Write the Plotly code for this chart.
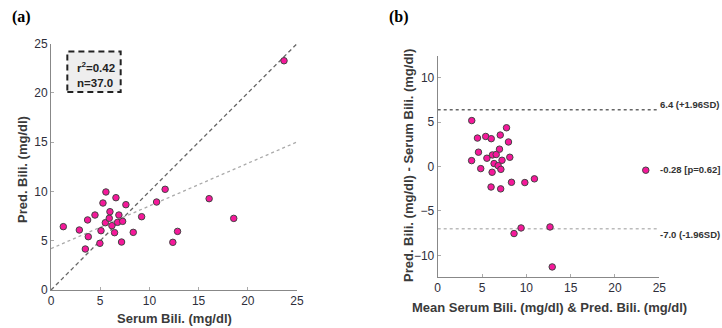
import plotly.graph_objects as go

# Panel (a) data: serum bilirubin vs predicted bilirubin (mg/dl)
serum = [1.25, 2.88, 3.72, 4.47, 3.79, 3.49, 4.97, 5.08, 5.28, 5.58, 5.52, 5.92, 5.99,
         6.19, 6.46, 6.60, 6.90, 6.77, 7.17, 7.28, 7.61, 8.36, 9.21, 10.73, 11.60,
         12.38, 12.86, 16.07, 18.57, 23.68]
pred = [6.43, 6.09, 7.11, 7.61, 5.41, 4.16, 4.74, 6.02, 8.83, 9.95, 6.83, 7.28, 7.95,
        6.53, 5.82, 9.37, 7.61, 6.87, 4.87, 6.97, 8.66, 5.85, 7.44, 8.93, 10.22,
        4.84, 5.95, 9.27, 7.27, 23.27]

# regression line (intercept, slope) and stats
reg_intercept = 4.2
reg_slope = 0.433
r2_text = "r<sup>2</sup>=0.42<br>n=37.0"

# Bland-Altman limits
upper_loa = 6.4
mean_diff = -0.28
lower_loa = -7.0
loa_labels = ["6.4 (+1.96SD)", "-0.28 [p=0.62]", "-7.0 (-1.96SD)"]

ba_mean = [(s + p) / 2 for s, p in zip(serum, pred)]
ba_diff = [p - s for s, p in zip(serum, pred)]

W, H = 722, 328
def px(x): return x / W
def py(y): return 1 - y / H

PINK = "#F5189A"
TICKC = "#2e2e3a"
FONT = "Liberation Sans, Arial, sans-serif"

fig = go.Figure()

# panel a
fig.add_trace(go.Scatter(x=[0, 25], y=[0, 25], mode="lines",
                         line=dict(color="#666666", width=1.3, dash="4px,3px"),
                         xaxis="x", yaxis="y", showlegend=False, hoverinfo="skip"))
fig.add_trace(go.Scatter(x=[0, 25], y=[reg_intercept, reg_intercept + reg_slope * 25], mode="lines",
                         line=dict(color="#aaaaaa", width=1.3, dash="dot"),
                         xaxis="x", yaxis="y", showlegend=False, hoverinfo="skip"))
fig.add_trace(go.Scatter(x=serum, y=pred, mode="markers",
                         marker=dict(color=PINK, size=6.5, line=dict(color="#444444", width=1)),
                         xaxis="x", yaxis="y", showlegend=False))

# panel b
fig.add_trace(go.Scatter(x=[0, 25], y=[upper_loa, upper_loa], mode="lines",
                         line=dict(color="#666666", width=1.5, dash="dot"),
                         xaxis="x2", yaxis="y2", showlegend=False, hoverinfo="skip"))
fig.add_trace(go.Scatter(x=[0, 25], y=[lower_loa, lower_loa], mode="lines",
                         line=dict(color="#bbbbbb", width=1.5, dash="dot"),
                         xaxis="x2", yaxis="y2", showlegend=False, hoverinfo="skip"))
fig.add_trace(go.Scatter(x=ba_mean, y=ba_diff, mode="markers",
                         marker=dict(color=PINK, size=6.5, line=dict(color="#444444", width=1)),
                         xaxis="x2", yaxis="y2", showlegend=False))

axis_common = dict(showgrid=False, zeroline=False, showline=True, linecolor="#888888",
                   linewidth=1, ticks="inside", ticklen=3, tickcolor="#aaaaaa",
                   tickfont=dict(family=FONT, size=12, color=TICKC), automargin=False)

fig.update_layout(
    width=W, height=H,
    margin=dict(l=0, r=0, t=0, b=0),
    paper_bgcolor="white", plot_bgcolor="white",
    xaxis=dict(domain=[px(51), px(297)], range=[0, 25], tickvals=[0, 5, 10, 15, 20, 25],
               anchor="y", **axis_common),
    yaxis=dict(domain=[py(290), py(43.7)], range=[0, 25], tickvals=[0, 5, 10, 15, 20, 25],
               anchor="x", **axis_common),
    xaxis2=dict(domain=[px(437.7), px(659.3)], range=[0, 25], tickvals=[0, 5, 10, 15, 20, 25],
                anchor="y2", **axis_common),
    yaxis2=dict(domain=[py(276.7), py(56)], range=[-12.4, 12.45], tickvals=[-10, -5, 0, 5, 10],
                anchor="x2", **axis_common),
)

fig.add_shape(type="rect", xref="x", yref="y", x0=1.66, x1=7.08, y0=20.1, y1=24.2,
              fillcolor="#eeeeee", line=dict(color="#222222", width=2, dash="6px,4px"), layer="above")

TITLE = dict(family=FONT, size=13, color="#3a3a3a")
ann = []
ann.append(dict(x=px(75), y=py(74), xref="paper", yref="paper", text="<b>" + r2_text + "</b>",
                showarrow=False, xanchor="left", yanchor="middle", align="left",
                font=dict(family=FONT, size=11.5, color="#222222")))
ann.append(dict(x=px(10), y=py(17), xref="paper", yref="paper", text="<b>(a)</b>",
                showarrow=False, xanchor="left", yanchor="middle",
                font=dict(family="Liberation Serif, Times New Roman, serif", size=16, color="black")))
ann.append(dict(x=px(387), y=py(17), xref="paper", yref="paper", text="<b>(b)</b>",
                showarrow=False, xanchor="left", yanchor="middle",
                font=dict(family="Liberation Serif, Times New Roman, serif", size=16, color="black")))
ann.append(dict(x=px(174), y=py(318), xref="paper", yref="paper", text="<b>Serum Bili. (mg/dl)</b>",
                showarrow=False, xanchor="center", yanchor="middle", font=TITLE))
ann.append(dict(x=px(22), y=py(170), xref="paper", yref="paper", text="<b>Pred. Bili. (mg/dl)</b>",
                showarrow=False, xanchor="center", yanchor="middle", textangle=-90, font=TITLE))
ann.append(dict(x=px(549), y=py(307), xref="paper", yref="paper",
                text="<b>Mean Serum Bili. (mg/dl) &amp; Pred. Bili. (mg/dl)</b>",
                showarrow=False, xanchor="center", yanchor="middle", font=TITLE))
ann.append(dict(x=px(408), y=py(166), xref="paper", yref="paper",
                text="<b>Pred. Bili. (mg/dl) - Serum Bili. (mg/dl)</b>",
                showarrow=False, xanchor="center", yanchor="middle", textangle=-90, font=TITLE))
for val, lab, shift in zip([upper_loa, mean_diff, lower_loa], loa_labels, [5, 0, -6]):
    ann.append(dict(x=25, y=val, xref="x2", yref="y2", text="<b>" + lab + "</b>",
                    showarrow=False, xanchor="left", yanchor="middle", xshift=-1, yshift=shift,
                    font=dict(family=FONT, size=9.5, color="#333333")))
fig.update_layout(annotations=ann)

fig.write_html("out.html")
